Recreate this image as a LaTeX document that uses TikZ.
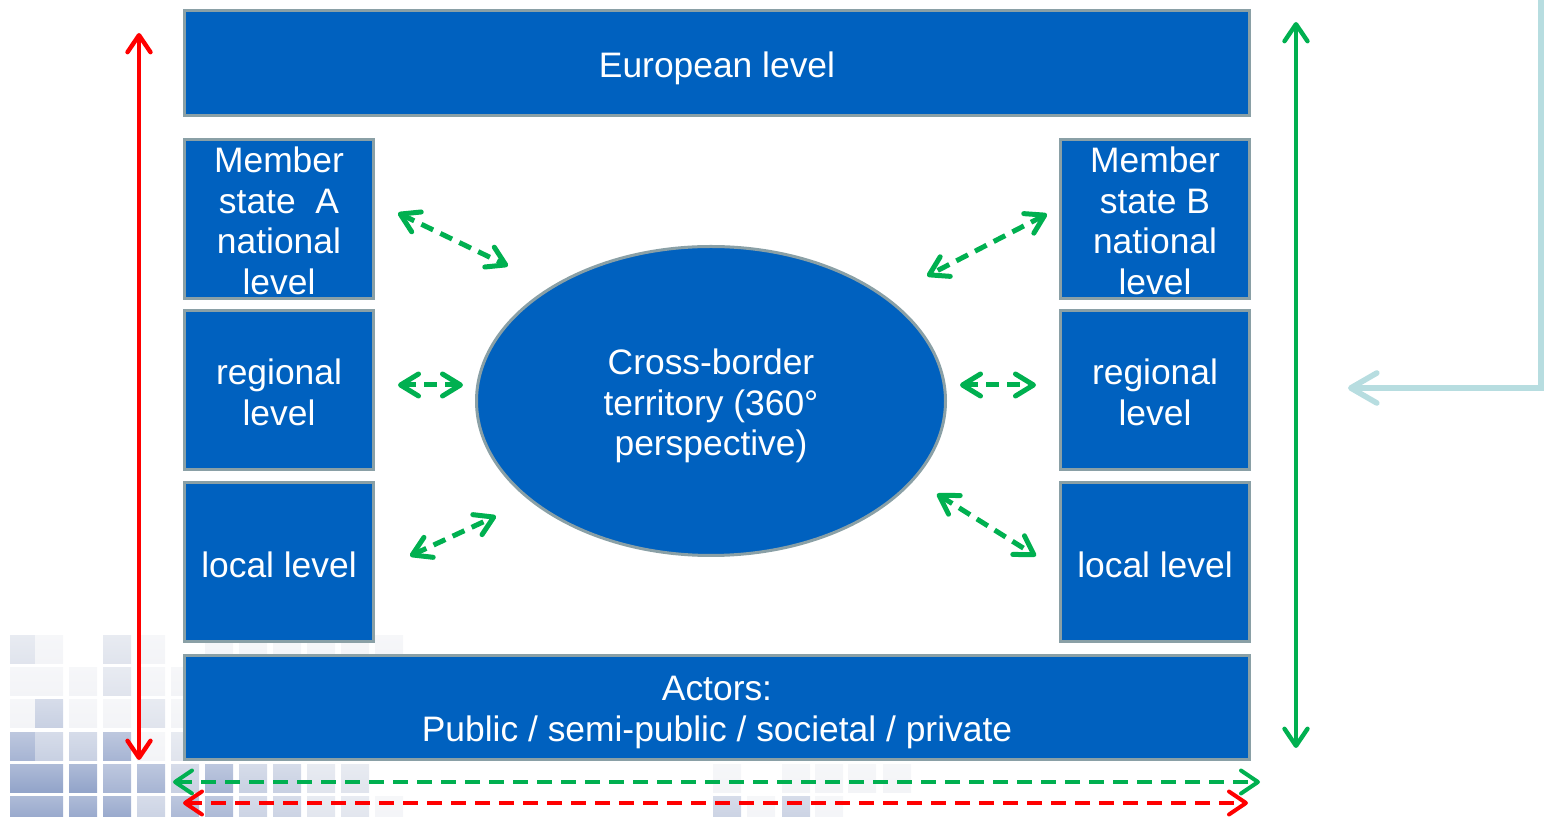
\documentclass[tikz,border=0pt]{standalone}
\usepackage{fontspec}
\setmainfont{Liberation Sans}
\usetikzlibrary{arrows.meta,shapes.geometric}
\definecolor{boxblue}{RGB}{0,97,191}
\definecolor{boxedge}{RGB}{138,160,166}
\definecolor{grn}{RGB}{0,176,80}
\definecolor{lblue}{RGB}{183,221,224}
\definecolor{gA}{RGB}{243,244,247}
\definecolor{gB}{RGB}{224,228,237}
\definecolor{gC}{RGB}{200,208,226}
\definecolor{gD}{RGB}{166,180,211}
\definecolor{gE}{RGB}{145,163,201}
\newcommand\sq[3]{\shade[top color=#3!75!white, bottom color=#3] (#1,#2) rectangle ++(28,28);}
\tikzset{
  box/.style={draw=boxedge, line width=1.5pt, fill=boxblue, inner sep=0pt},
  txt/.style={text=white, align=center, font=\fontsize{17.7pt}{20.3pt}\selectfont, inner sep=0pt},
  smallbox/.style={box, minimum width=94.5pt, minimum height=79.5pt},
  widebox/.style={box, minimum width=532.5pt, minimum height=52.5pt},
  oval/.style={box, ellipse, minimum width=234.5pt, minimum height=154.5pt},
  vred/.style={draw=red, line width=2.2pt, {Straight Barb[length=8.5pt,width=11.5pt,round]}-{Straight Barb[length=8.5pt,width=11.5pt,round]}},
  vgrn/.style={draw=grn, line width=2.2pt, {Straight Barb[length=8.5pt,width=11.5pt,round]}-{Straight Barb[length=8.5pt,width=11.5pt,round]}},
  hdash/.style={draw=#1, line width=2pt, dash pattern=on 7.5pt off 4.5pt, {Straight Barb[length=8.5pt,width=11.5pt,round]}-{Straight Barb[length=8.5pt,width=11.5pt,round]}},
  ddash/.style={draw=grn, line width=2.5pt, dash pattern=on 6.5pt off 4pt, {Straight Barb[length=9pt,width=11pt,round]}-{Straight Barb[length=9pt,width=11pt,round]}},
  lbarrow/.style={draw=lblue, line width=2.8pt, -{Straight Barb[length=13pt,width=15pt,round]}}
}
\begin{document}
\begin{tikzpicture}[x=0.5pt,y=-0.5pt]
\useasboundingbox (0,0) rectangle (1544,817);
% decorative grid
\sq{10}{636}{gB}\sq{35}{636}{gA}\sq{103}{636}{gB}\sq{137}{636}{gA}
\foreach \c in {205,239,273,307,341,375} {\sq{\c}{636}{gA}}
\sq{10}{668}{gA}\sq{35}{668}{gA}\sq{69}{668}{gA}\sq{103}{668}{gB}\sq{137}{668}{gA}\sq{171}{668}{gA}
\sq{10}{700}{gA}\sq{35}{700}{gC}\sq{69}{700}{gA}\sq{103}{700}{gA}\sq{137}{700}{gB}\sq{171}{700}{gA}
\sq{10}{733}{gD}\sq{35}{733}{gC}\sq{69}{733}{gC}\sq{103}{733}{gD}\sq{137}{733}{gA}\sq{171}{733}{gB}
\sq{10}{765}{gE}\sq{35}{765}{gE}\sq{69}{765}{gE}\sq{103}{765}{gD}\sq{137}{765}{gD}\sq{171}{765}{gC}
\sq{205}{765}{gD}\sq{239}{765}{gC}\sq{273}{765}{gC}\sq{307}{765}{gB}\sq{341}{765}{gB}
\sq{10}{797}{gE}\sq{35}{797}{gE}\sq{69}{797}{gE}\sq{103}{797}{gE}\sq{137}{797}{gC}\sq{171}{797}{gD}
\sq{205}{797}{gD}\sq{239}{797}{gC}\sq{273}{797}{gC}\sq{307}{797}{gB}\sq{341}{797}{gB}\sq{375}{797}{gA}
\sq{713}{765}{gA}\sq{782}{765}{gA}\sq{815}{765}{gA}\sq{848}{765}{gA}\sq{883}{765}{gA}
\sq{713}{797}{gC}\sq{747}{797}{gA}\sq{782}{797}{gC}\sq{815}{797}{gA}
% boxes
\node[widebox] (eu) at (717,63) {};
\node[smallbox] (msA) at (279,219) {};
\node[smallbox] (rgA) at (279,390.5) {};
\node[smallbox] (lcA) at (279,562.5) {};
\node[smallbox] (msB) at (1155,219) {};
\node[smallbox] (rgB) at (1155,390.5) {};
\node[smallbox] (lcB) at (1155,562.5) {};
\node[widebox, minimum height=52pt] (act) at (717,707.5) {};
\node[oval] (cbt) at (711,401) {};
% texts
\node[txt] (euT) at ([yshift=-2.5pt]eu.center) {European level};
\node[txt] (msAT) at ([yshift=-1pt]msA.center) {Member\\state\ \ A\\national\\level};
\node[txt] (rgAT) at ([yshift=-1pt]rgA.center) {regional\\level};
\node[txt] (lcAT) at ([yshift=-1pt]lcA.center) {local level};
\node[txt] (msBT) at ([yshift=-1pt]msB.center) {Member\\state B\\national\\level};
\node[txt] (rgBT) at ([yshift=-1pt]rgB.center) {regional\\level};
\node[txt] (lcBT) at ([yshift=-1pt]lcB.center) {local level};
\node[txt] (actT) at ([yshift=-2.5pt]act.center) {Actors:\\Public / semi-public / societal / private};
\node[txt] (cbtT) at ([yshift=-2.5pt]cbt.center) {Cross-border\\territory (360°\\perspective)};
% arrow end points
\coordinate (redT) at (139,33); \coordinate (redB) at (139,760);
\coordinate (grnT) at (1296,22); \coordinate (grnB) at (1296,748);
\coordinate (lbS) at (1541,-6); \coordinate (lbC) at (1541,388); \coordinate (lbE) at (1348,388);
\coordinate (bgL) at (173,782); \coordinate (bgR) at (1260,782);
\coordinate (brL) at (183,803); \coordinate (brR) at (1248,803);
\coordinate (a1) at (398,213); \coordinate (b1) at (508,266);
\coordinate (a2) at (398,385); \coordinate (b2) at (463,385);
\coordinate (a3) at (410,556); \coordinate (b3) at (496,516);
\coordinate (a4) at (1047,214); \coordinate (b4) at (927,276);
\coordinate (a5) at (960,385); \coordinate (b5) at (1036,385);
\coordinate (a6) at (937,494); \coordinate (b6) at (1036,556);
% arrows
\draw[vred] (redT) -- (redB);
\draw[vgrn] (grnT) -- (grnB);
\draw[lbarrow] (lbS) -- (lbC) -- (lbE);
\draw[hdash=grn] (bgL) -- (bgR);
\draw[hdash=red] (brL) -- (brR);
\foreach \i in {1,...,6} {\draw[ddash] (a\i) -- (b\i);}
\end{tikzpicture}
\end{document}
